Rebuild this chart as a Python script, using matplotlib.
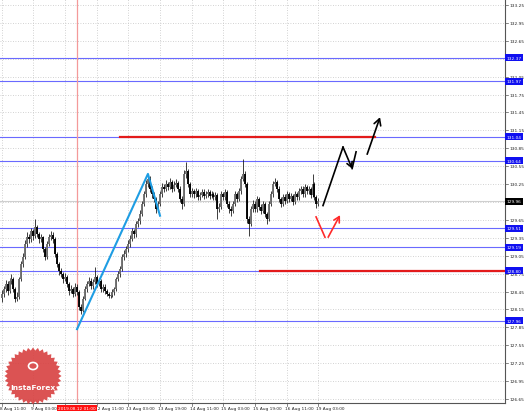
import matplotlib.pyplot as plt
from matplotlib.patches import Polygon, Circle
import numpy as np

# hourly candles, bar 0 = 8 Aug 11:00
first_open = 128.35
closes = [128.41, 128.49, 128.58, 128.46, 128.63, 128.66, 128.49, 128.33, 128.36, 128.66,
          128.91, 129.03, 129.25, 129.36, 129.33, 129.46, 129.38, 129.53, 129.41, 129.33,
          129.36, 129.16, 129.03, 129.25, 129.36, 129.40, 129.33, 129.08, 128.91, 128.79,
          128.74, 128.66, 128.69, 128.58, 128.46, 128.49, 128.41, 128.53, 128.44, 128.19,
          128.12, 128.33, 128.49, 128.58, 128.63, 128.54, 128.61, 128.69, 128.58, 128.63,
          128.49, 128.53, 128.46, 128.41, 128.38, 128.39, 128.44, 128.49, 128.66, 128.74,
          128.83, 129.03, 129.08, 129.16, 129.25, 129.33, 129.46, 129.41, 129.58, 129.63,
          129.75, 129.92, 130.08, 130.25, 130.34, 130.17, 130.08, 130.00, 129.83, 129.92,
          130.08, 130.20, 130.17, 130.25, 130.20, 130.29, 130.17, 130.24, 130.27, 130.17,
          130.00, 129.92, 130.42, 130.47, 130.25, 130.08, 130.13, 130.08, 130.13, 130.03,
          130.07, 130.12, 130.05, 130.08, 130.12, 130.05, 130.08, 130.03, 130.07, 129.83,
          129.87, 130.08, 130.03, 130.12, 129.92, 129.83, 129.80, 129.92, 130.08, 130.00,
          130.13, 130.34, 130.42, 130.25, 129.67, 129.58, 129.83, 129.92, 129.83, 130.00,
          129.87, 129.80, 129.92, 129.75, 129.67, 129.92, 130.08, 130.25, 130.29, 130.17,
          130.00, 129.92, 130.03, 129.97, 130.08, 130.00, 130.05, 129.95, 130.08, 130.03,
          130.13, 130.17, 130.08, 130.20, 130.13, 130.17, 130.07, 130.25, 130.03, 129.92,
          129.96]
highs = [128.48, 128.55, 128.64, 128.62, 128.68, 128.74, 128.70, 128.52, 128.44, 128.70,
         128.96, 129.10, 129.31, 129.44, 129.42, 129.52, 129.50, 129.67, 129.57, 129.45,
         129.42, 129.38, 129.20, 129.29, 129.42, 129.47, 129.45, 129.36, 129.12, 128.95,
         128.84, 128.78, 128.76, 128.72, 128.61, 128.56, 128.53, 128.60, 128.57, 128.47,
         128.24, 128.38, 128.54, 128.63, 128.69, 128.67, 128.66, 128.86, 128.73, 128.68,
         128.66, 128.58, 128.57, 128.50, 128.45, 128.44, 128.49, 128.53, 128.70, 128.79,
         128.88, 129.08, 129.14, 129.22, 129.31, 129.39, 129.52, 129.50, 129.63, 129.69,
         129.81, 129.97, 130.14, 130.31, 130.42, 130.38, 130.21, 130.12, 130.04, 129.97,
         130.13, 130.26, 130.25, 130.31, 130.29, 130.35, 130.32, 130.30, 130.33, 130.30,
         130.21, 130.05, 130.48, 130.62, 130.50, 130.28, 130.19, 130.17, 130.18, 130.16,
         130.12, 130.17, 130.16, 130.13, 130.17, 130.15, 130.13, 130.12, 130.12, 130.10,
         129.93, 130.13, 130.12, 130.17, 130.15, 129.96, 129.88, 129.97, 130.13, 130.12,
         130.18, 130.39, 130.67, 130.47, 130.28, 129.72, 129.88, 129.98, 129.96, 130.05,
         130.04, 129.91, 129.97, 129.95, 129.79, 129.97, 130.13, 130.30, 130.36, 130.32,
         130.21, 130.04, 130.09, 130.08, 130.13, 130.12, 130.10, 130.08, 130.13, 130.12,
         130.18, 130.22, 130.21, 130.25, 130.24, 130.22, 130.20, 130.42, 130.28, 130.06,
         130.01]
lows = [128.28, 128.36, 128.44, 128.40, 128.42, 128.57, 128.44, 128.28, 128.29, 128.33,
        128.62, 128.86, 128.99, 129.20, 129.26, 129.28, 129.31, 129.34, 129.36, 129.27,
        129.28, 129.11, 128.98, 129.00, 129.21, 129.31, 129.27, 129.03, 128.86, 128.73,
        128.69, 128.60, 128.62, 128.52, 128.40, 128.42, 128.36, 128.38, 128.39, 128.14,
        128.07, 128.10, 128.30, 128.45, 128.54, 128.49, 128.50, 128.57, 128.53, 128.54,
        128.44, 128.45, 128.41, 128.37, 128.34, 128.35, 128.36, 128.40, 128.46, 128.62,
        128.70, 128.80, 128.98, 129.03, 129.11, 129.20, 129.29, 129.35, 129.37, 129.53,
        129.58, 129.71, 129.88, 130.04, 130.20, 130.12, 130.02, 129.95, 129.76, 129.78,
        129.88, 130.04, 130.11, 130.13, 130.15, 130.16, 130.12, 130.13, 130.20, 130.12,
        129.95, 129.83, 129.89, 130.36, 130.20, 130.03, 130.04, 130.02, 130.04, 129.98,
        129.99, 130.03, 130.00, 130.01, 130.04, 130.00, 130.01, 129.98, 129.99, 129.67,
        129.78, 129.84, 129.98, 129.99, 129.87, 129.77, 129.72, 129.76, 129.88, 129.95,
        129.96, 130.09, 130.30, 130.20, 129.60, 129.38, 129.54, 129.79, 129.78, 129.79,
        129.82, 129.75, 129.76, 129.70, 129.58, 129.63, 129.88, 130.04, 130.21, 130.12,
        129.95, 129.86, 129.88, 129.92, 129.93, 129.95, 129.96, 129.90, 129.91, 129.99,
        129.99, 130.09, 130.04, 130.04, 130.09, 130.09, 130.02, 130.03, 129.99, 129.85,
        129.88]

level_lines = [132.37, 131.97, 131.04, 130.64, 129.51, 129.19, 128.80, 127.96]
bid_price = 129.96
y_ticks = [133.25, 132.95, 132.65, 132.35, 132.05, 131.75, 131.45, 131.15, 130.85, 130.55,
           130.25, 129.95, 129.65, 129.35, 129.05, 128.75, 128.45, 128.15, 127.85, 127.55,
           127.25, 126.95, 126.65]
x_tick_bars = [0, 16, 32, 48, 64, 80, 96, 112, 128, 144, 160]
x_tick_labels = ['8 Aug 11:00', '9 Aug 03:00', '9 Aug 19:00', '12 Aug 11:00', '13 Aug 03:00',
                 '13 Aug 19:00', '14 Aug 11:00', '15 Aug 03:00', '15 Aug 19:00',
                 '16 Aug 11:00', '19 Aug 03:00']
cursor_bar = 38
cursor_label = '2019.08.12 01:00'

# drawn analysis (bar, price)
blue_wave_x = [38.1, 73.9, 80.0]
blue_wave_y = [127.82, 130.42, 129.72]
resist_x = [59.8, 188.6]
resist_y = [131.04, 131.04]
support_x = [130.5, 255]
support_y = [128.80, 128.80]
black_path_x = [162.3, 172.4, 177.0]
black_path_y = [129.89, 130.87, 130.51]
black_tail_x = [177.0, 179.0]
black_tail_y = [130.51, 130.79]
black_arrow = [(184.6, 130.75), (191.1, 131.37)]
red_stroke_x = [158.8, 163.3]
red_stroke_y = [129.70, 129.36]
red_arrow = [(164.9, 129.36), (170.9, 129.73)]

W, H = 525, 414
fig = plt.figure(figsize=(W / 100, H / 100), dpi=100)
ax = fig.add_axes([0, 10 / H, 505 / W, 404 / H])
ax.set_xlim(-0.8, 254.2)
ax.set_ylim(126.583, 133.35)

# grid
for b in x_tick_bars:
    ax.axvline(b, color='#c4c4c4', lw=0.6, ls=(0, (1, 2)), zorder=0)
for t in y_ticks:
    ax.axhline(t, color='#c4c4c4', lw=0.6, ls=(0, (1, 2)), zorder=0)

# candles
opens = [first_open] + closes[:-1]
xs = np.arange(len(closes))
ax.vlines(xs, lows, highs, color='#1e1e1e', lw=0.6, zorder=3)
body_lo = np.minimum(opens, closes)
body_hi = np.maximum(opens, closes)
cols = ['black' if c < o else '#6e6e6e' for o, c in zip(opens, closes)]
ax.vlines(xs, body_lo, body_hi, colors=cols, lw=1.35, zorder=4)

# levels
for lv in level_lines:
    ax.axhline(lv, color='#6a6aff', lw=0.8, zorder=2)
ax.axhline(bid_price, color='#cfcfcf', lw=0.8, zorder=1)
ax.axvline(cursor_bar, color='#f49a9a', lw=0.9, zorder=2)

ax.plot(resist_x, resist_y, color='#e31b1b', lw=1.6, zorder=5)
ax.plot(support_x, support_y, color='#e31b1b', lw=1.6, zorder=5)
ax.plot(blue_wave_x, blue_wave_y, color='#1e9de3', lw=1.5, zorder=6)

ax.plot(black_path_x[:2], black_path_y[:2], color='black', lw=1.2, zorder=6)
ax.annotate('', xy=(black_path_x[2], black_path_y[2]), xytext=(black_path_x[1], black_path_y[1]),
            arrowprops=dict(arrowstyle='->,head_length=0.35,head_width=0.2', color='black',
                            lw=1.2, shrinkA=0, shrinkB=0), zorder=6)
ax.plot(black_tail_x, black_tail_y, color='black', lw=1.2, zorder=6)
ax.annotate('', xy=black_arrow[1], xytext=black_arrow[0],
            arrowprops=dict(arrowstyle='->,head_length=0.45,head_width=0.25', color='black',
                            lw=1.2, shrinkA=0, shrinkB=0), zorder=6)
ax.plot(red_stroke_x, red_stroke_y, color='#ff2a2a', lw=1.2, zorder=6)
ax.annotate('', xy=red_arrow[1], xytext=red_arrow[0],
            arrowprops=dict(arrowstyle='->,head_length=0.4,head_width=0.22', color='#ff2a2a',
                            lw=1.2, shrinkA=0, shrinkB=0), zorder=6)

# axes frame
for s in ['top', 'left']:
    ax.spines[s].set_visible(False)
ax.spines['right'].set_color('#555555')
ax.spines['bottom'].set_color('#555555')
ax.spines['right'].set_linewidth(0.8)
ax.spines['bottom'].set_linewidth(0.8)
ax.set_xticks([])
ax.set_yticks([])

# right price scale
ytr = ax.get_yaxis_transform()
for t in y_ticks:
    if min(abs(t - lv) for lv in level_lines + [bid_price]) < 0.04:
        continue
    ax.plot([1.0, 1.006], [t, t], color='#555555', lw=0.5, transform=ytr, clip_on=False)
    ax.text(1.008, t, f'{t:.2f}', transform=ytr, fontsize=3.1, va='center', ha='left',
            color='#222222')
for lv in level_lines:
    ax.text(1.003, lv, f'{lv:.2f}', transform=ytr, fontsize=3.1, va='center', ha='left',
            color='white', bbox=dict(boxstyle='square,pad=0.35', fc='#1010f0', ec='none'))
ax.text(1.003, bid_price, f'{bid_price:.2f}', transform=ytr, fontsize=3.1, va='center',
        ha='left', color='white', bbox=dict(boxstyle='square,pad=0.35', fc='black', ec='none'))

# time scale (the label under the cursor box is covered, as in the terminal)
xtr = ax.get_xaxis_transform()
for b, lab in zip(x_tick_bars, x_tick_labels):
    ax.plot([b, b], [0, -0.008], color='#555555', lw=0.5, transform=xtr, clip_on=False)
    if abs(b - cursor_bar) < 10:
        continue
    ax.text(b - 1.0, -0.013, lab, transform=xtr, fontsize=3.1, va='center', ha='left',
            color='#222222')
ax.text(cursor_bar, -0.013, cursor_label, transform=xtr, fontsize=3.1, va='center',
        ha='center', color='white', zorder=8,
        bbox=dict(boxstyle='square,pad=0.25', fc='#ff1010', ec='none'))

# watermark logo (pixel positions)
cx, cy = 33, 377
ang = np.linspace(0, 2 * np.pi, 73)[:-1]
rad = np.where(np.arange(72) % 2 == 0, 28.5, 25.5)
pts = np.column_stack([(cx + rad * np.cos(ang)) / W, 1 - (cy + rad * np.sin(ang)) / H])
fig.add_artist(Polygon(pts, closed=True, transform=fig.transFigure, fc='#d84040',
                       ec='none', alpha=0.9, zorder=20))
fig.add_artist(Circle((cx / W, 1 - 367 / H), 4.5 / W, transform=fig.transFigure, fc='none',
                      ec='white', lw=1.2, zorder=21))
fig.text(cx / W, 1 - 388 / H, 'InstaForex', color='white', fontsize=5.4, ha='center',
         va='center', fontweight='semibold', zorder=21)

fig.savefig('out.png', dpi=100)
